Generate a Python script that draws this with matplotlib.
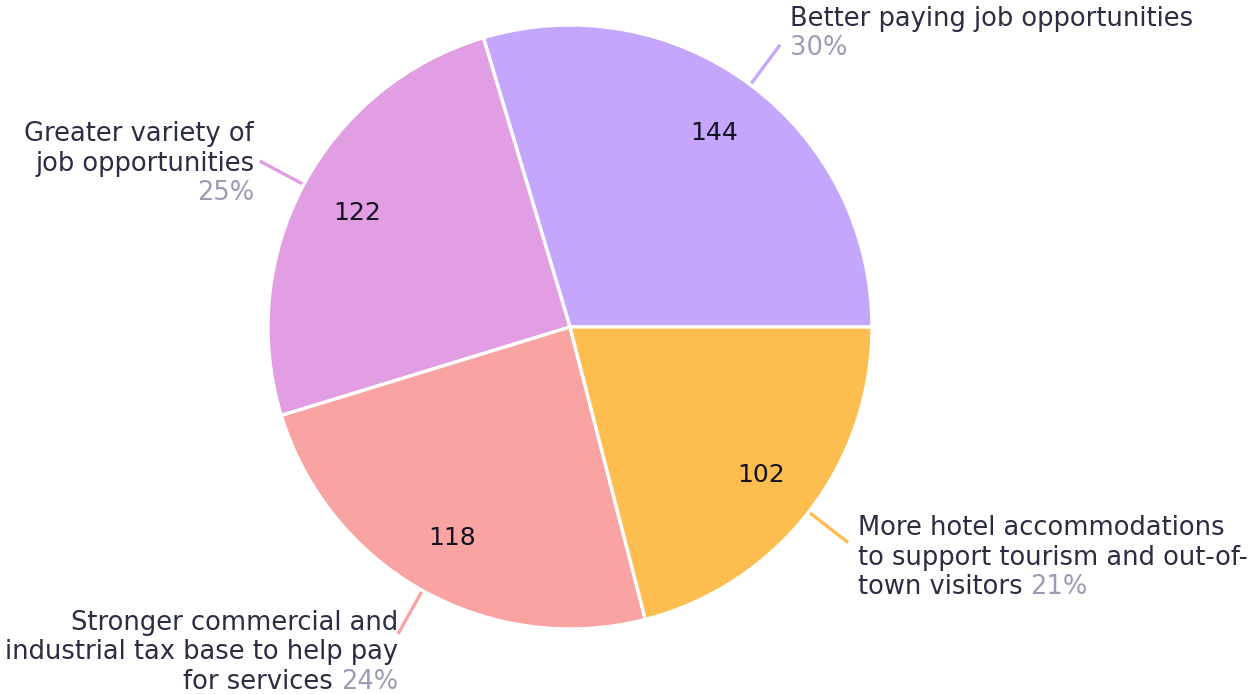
import numpy as np
import matplotlib
matplotlib.use("Agg")
import matplotlib.pyplot as plt
from matplotlib.offsetbox import TextArea, HPacker, VPacker, AnnotationBbox

# data
labels = [
    ["Better paying job opportunities"],
    ["Greater variety of", "job opportunities"],
    ["Stronger commercial and", "industrial tax base to help pay", "for services"],
    ["More hotel accommodations", "to support tourism and out-of-", "town visitors"],
]
counts = [144, 122, 118, 102]
colors = ["#C4A7FD", "#E19EE2", "#F9A3A3", "#FDBD4F"]

# percent goes on its own line or at the end of the last line
pct_newline = [True, True, False, False]

text_color = "#2B2D42"
pct_color = "#9A9CB4"
plt.rcParams["font.family"] = ["DejaVu Sans"]

fig = plt.figure(figsize=(12.57, 6.94), dpi=100)
ax = fig.add_axes([0, 0, 1, 1])

# pie centre at pixel (570, 327), radius 302 px
R = 302.0
total = sum(counts)
wedges, _, autotexts = ax.pie(
    counts, colors=colors, startangle=0, counterclock=True,
    radius=1.0, center=(0, 0),
    autopct=lambda p: f"{p * total / 100:.0f}", pctdistance=0.8,
    wedgeprops=dict(edgecolor="white", linewidth=2.4),
    textprops=dict(fontsize=18, color="#111122"),
    frame=True,
)
ax.set_xlim(-570 / R, (1257 - 570) / R)
ax.set_ylim((327 - 694) / R, 327 / R)
ax.set_aspect("equal")
ax.axis("off")

fs = 18.5
nudges = [(7, -12), (-4, -2), (0, 17.5), (7, -11)]
for w, lab, n, nl, nudge in zip(wedges, labels, counts, pct_newline, nudges):
    ang = np.deg2rad((w.theta1 + w.theta2) / 2)
    x0, y0 = np.cos(ang), np.sin(ang)
    x1, y1 = 1.165 * x0, 1.165 * y0
    ax.plot([x0, x1], [y0, y1], color=w.get_facecolor(), lw=2.4,
            solid_capstyle="butt", zorder=0)
    pct = f"{round(100 * n / total)}%"
    tp = dict(fontsize=fs, color=text_color)
    pp = dict(fontsize=fs, color=pct_color)
    rows = [TextArea(t, textprops=tp) for t in lab[:-1]]
    if nl:
        rows.append(TextArea(lab[-1], textprops=tp))
        rows.append(TextArea(pct, textprops=pp))
    else:
        rows.append(HPacker(children=[TextArea(lab[-1] + " ", textprops=tp),
                                      TextArea(pct, textprops=pp)],
                            pad=0, sep=0, align="baseline"))
    right = x0 >= 0
    box = VPacker(children=rows, pad=0, sep=2.5,
                  align="left" if right else "right")
    if y0 > 0.7:
        va = 0.0
    elif y0 < -0.7:
        va = 1.0
    else:
        va = 0.5
    ab = AnnotationBbox(box, (x1, y1), xybox=nudge, boxcoords="offset points",
                        box_alignment=(0.0 if right else 1.0, va),
                        frameon=False, pad=0)
    ax.add_artist(ab)

fig.savefig("out.png", dpi=100, facecolor="white")
